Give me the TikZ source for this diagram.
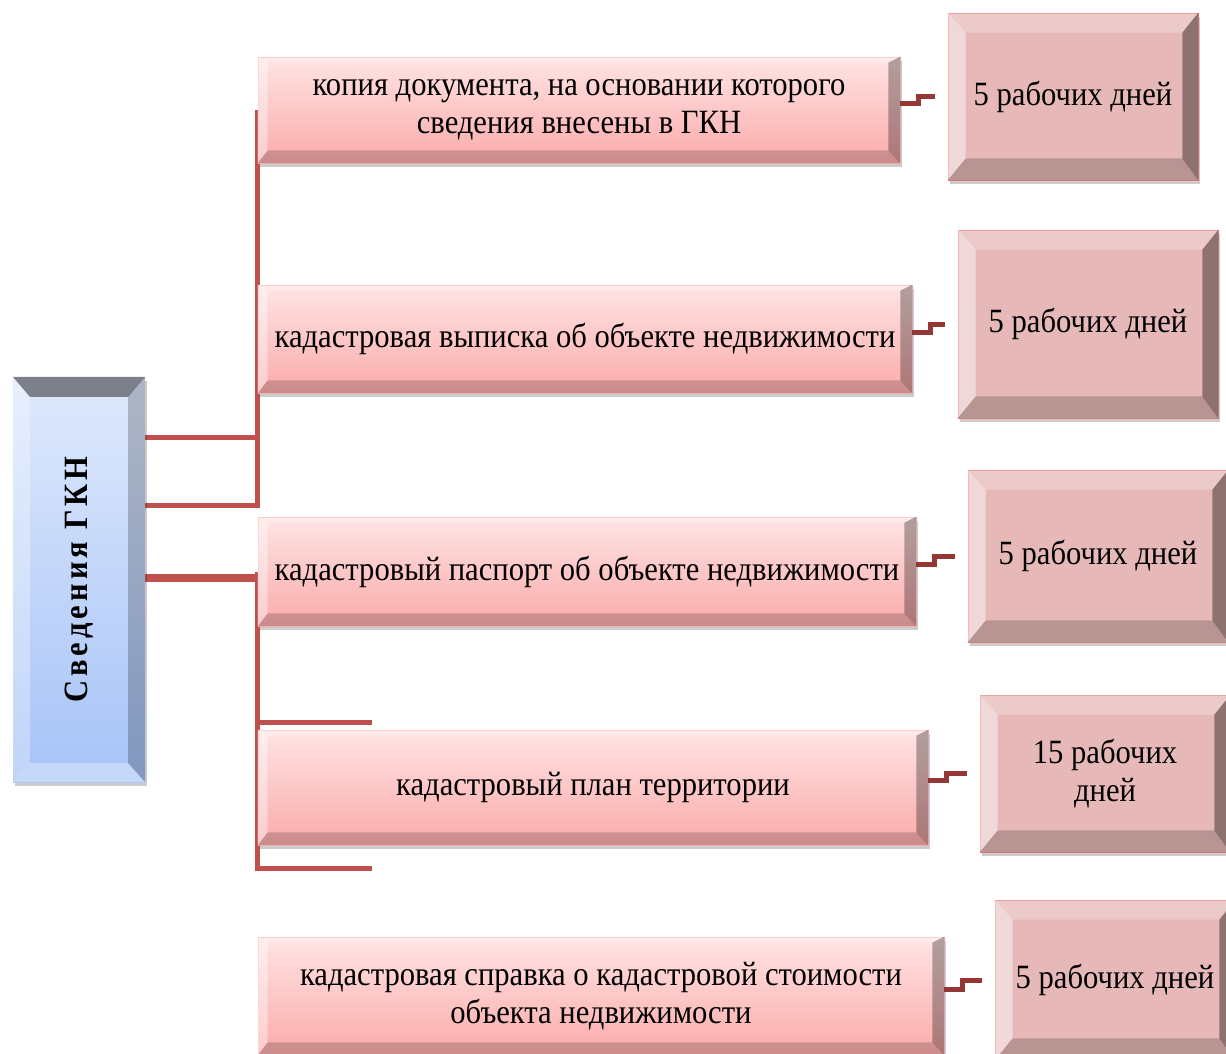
\documentclass[tikz,border=0pt]{standalone}
\usepackage{fontspec}
\setmainfont{Liberation Serif}
\newfontfamily\boxfont[FakeStretch=0.9]{Liberation Serif}
\usetikzlibrary{calc,shadows}

\definecolor{treered}{HTML}{C0504D}
\definecolor{stepred}{HTML}{953735}
\definecolor{pinktop}{HTML}{FFE4E4}
\definecolor{pinkbot}{HTML}{FBAAAA}
\definecolor{termfill}{HTML}{E6B9B8}
\definecolor{blutop}{HTML}{DFE9FC}
\definecolor{blubot}{HTML}{A6C3F7}

\pgfdeclarelayer{bg}
\pgfsetlayers{bg,main}

% bevel bands: node, left, top, right, bottom widths, then top/left/bottom/right fills
\newcommand\bevel[9]{%
  \fill[#6] (#1.north west) -- (#1.north east) -- ([shift={(-#4,#3)}]#1.north east) -- ([shift={(#2,#3)}]#1.north west) -- cycle;
  \fill[#7] (#1.north west) -- ([shift={(#2,#3)}]#1.north west) -- ([shift={(#2,-#5)}]#1.south west) -- (#1.south west) -- cycle;
  \fill[#8] (#1.south west) -- ([shift={(#2,-#5)}]#1.south west) -- ([shift={(-#4,-#5)}]#1.south east) -- (#1.south east) -- cycle;
  \fill[#9] (#1.north east) -- ([shift={(-#4,#3)}]#1.north east) -- ([shift={(-#4,-#5)}]#1.south east) -- (#1.south east) -- cycle;
}
\newcommand\docbevel[1]{\bevel{#1}{10}{6}{12}{13}{white,opacity=.3}{white,opacity=.4}{black,opacity=.18}{black,opacity=.3}}
\newcommand\termbevel[1]{\bevel{#1}{18}{20}{16}{22}{white,opacity=.25}{white,opacity=.45}{black,opacity=.2}{black,opacity=.38}}

\tikzset{
  boxtext/.style={font=\boxfont\fontsize{34}{38}\selectfont, align=center, inner sep=0pt},
  docbox/.style={boxtext, top color=pinktop, bottom color=pinkbot, draw=pinkbot!80!white, line width=.8,
    drop shadow={shadow xshift=2pt, shadow yshift=-4pt, opacity=.2, fill=black}},
  termbox/.style={boxtext, fill=termfill, draw=termfill!70!red, line width=.8,
    drop shadow={shadow xshift=2pt, shadow yshift=-4pt, opacity=.2, fill=black}},
  tree/.style={treered, line width=5},
  stepline/.style={stepred, line width=5, shorten >=13},
}

\begin{document}
\begin{tikzpicture}[x=1pt,y=-1pt]
\useasboundingbox (0,0) rectangle (1226,1053);

% main block
\node[boxtext, minimum width=132, minimum height=405, top color=blutop, bottom color=blubot,
  drop shadow={shadow xshift=2pt, shadow yshift=-4pt, opacity=.2, fill=black}] (gkn) at (79,579.5)
  {\rotatebox{90}{\fontsize{34}{38}\selectfont\bfseries\addfontfeature{LetterSpace=12}Сведения ГКН}};
\bevel{gkn}{17}{20}{17}{19}{fill=black!45!blutop}{white,opacity=.3}{white,opacity=.35}{black,opacity=.22}

% documents
\node[docbox, minimum width=642, minimum height=106] (d1) at (579,110) {копия документа, на основании которого\\сведения внесены в ГКН};
\node[docbox, minimum width=654, minimum height=108] (d2) at (585,339) {кадастровая выписка об объекте недвижимости};
\node[docbox, minimum width=658, minimum height=109] (d3) at (587,571.5) {кадастровый паспорт об объекте недвижимости};
\node[docbox, minimum width=670, minimum height=115] (d4) at (593,787.5) {кадастровый план территории};
\node[docbox, minimum width=686, minimum height=118] (d5) at (601,996) {кадастровая справка о кадастровой стоимости\\объекта недвижимости};
\foreach \n in {d1,d2,d3,d4,d5} {\docbevel{\n}}

% terms
\node[termbox, minimum width=250, minimum height=167] (t1) at (1073,96.5) {5 рабочих дней};
\node[termbox, minimum width=260, minimum height=188] (t2) at (1088,324) {5 рабочих дней};
\node[termbox, minimum width=260, minimum height=172] (t3) at (1098,556) {5 рабочих дней};
\node[termbox, minimum width=250, minimum height=157] (t4) at (1105,773.5) {15 рабочих\\дней};
\node[termbox, minimum width=240, minimum height=160] (t5) at (1115,980) {5 рабочих дней};
\foreach \n in {t1,t2,t3,t4,t5} {\termbevel{\n}}

% tree
\coordinate (s1) at (372,722);
\coordinate (s2) at (372,868);
\begin{pgfonlayer}{bg}
\draw[tree] (gkn.east |- 0,437) -| (d1.west);
\draw[tree] (gkn.east |- 0,505) -| (d2.west);
\draw[tree, line width=8] ([yshift=-6.5]gkn.east |- d3.west) -- ([yshift=-6.5]d3.west);
\draw[tree] (d3.west) |- (s1);
\draw[tree] (d3.west) |- (s2);
\end{pgfonlayer}

% steps
\foreach \a/\b in {d1/t1,d2/t2,d3/t3,d4/t4,d5/t5}
  \draw[stepline] ([yshift=7]\a.east) -- ++(18,0) |- (\b.west);
\end{tikzpicture}
\end{document}
